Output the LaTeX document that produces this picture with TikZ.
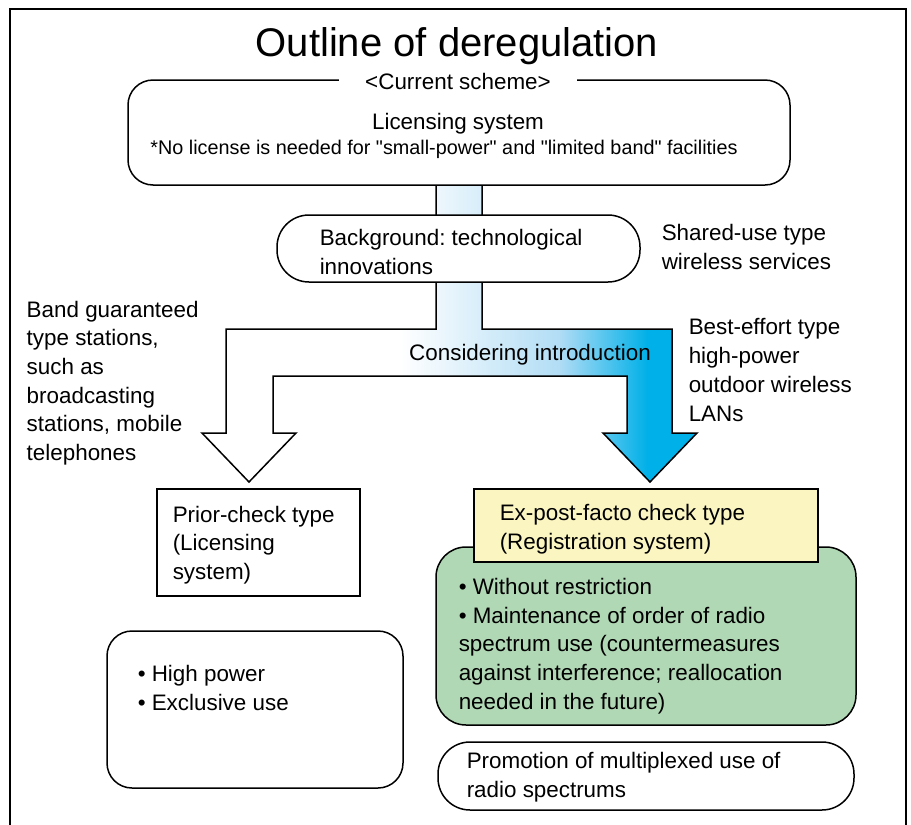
\documentclass[tikz,border=0pt]{standalone}
\usepackage{fontspec}
\setmainfont{Liberation Sans}
\usetikzlibrary{positioning}

\def \titleStr {Outline of deregulation}
\def \currentSchemeStr {<Current scheme>}
\def \licensingStr {Licensing system}
\def \noLicenseStr {*No license is needed for \textquotedbl small-power\textquotedbl\ and \textquotedbl limited band\textquotedbl\ facilities}
\def \backgroundStr {Background: technological\\innovations}
\def \sharedUseStr {Shared-use type\\wireless services}
\def \bandGuaranteedStr {Band guaranteed\\type stations,\\such as\\broadcasting\\stations, mobile\\telephones}
\def \bestEffortStr {Best-effort type\\high-power\\outdoor wireless\\LANs}
\def \consideringStr {Considering introduction}
\def \priorCheckStr {Prior-check type\\(Licensing\\system)}
\def \priorItemsStr {\textbullet\ High power\\\textbullet\ Exclusive use}
\def \exPostStr {Ex-post-facto check type\\(Registration system)}
\def \exPostItemsStr {\textbullet\ Without restriction\\\textbullet\ Maintenance of order of radio\\spectrum use (countermeasures\\against interference; reallocation\\needed in the future)}
\def \promotionStr {Promotion of multiplexed use of\\radio spectrums}

\definecolor{arrowlight}{RGB}{178,221,245}
\definecolor{arrowcyan}{RGB}{0,176,232}
\definecolor{regyellow}{RGB}{251,245,193}
\definecolor{reggreen}{RGB}{177,216,181}

\pgfdeclarehorizontalshading{arrowShade}{100bp}{color(0bp)=(white); color(45bp)=(white); color(61bp)=(arrowlight); color(70bp)=(arrowcyan); color(100bp)=(arrowcyan)}

\begin{document}
\begin{tikzpicture}[x=0.5pt, y=-0.5pt]

\useasboundingbox (0,0) rectangle (911,825);

\begin{scope}[line width=0.75pt,
  mytext/.style={inner sep=0pt, align=left, font=\fontsize{11.2}{14.35}\selectfont\frenchspacing},
  box/.style={draw=black, inner sep=0pt}]

% frame
\draw[line width=0.9pt] (10,830) -- (10,9) -- (906,9) -- (906,830);

\node[inner sep=0pt, font=\fontsize{20}{22}\selectfont] (title) at (457,46) {\titleStr};

% big arrow
\path[draw=black, shading=arrowShade] (436,184) -- (436,329) -- (226,329) -- (226,433) -- (202,433)
  -- (249,482) -- (296,433) -- (273,433) -- (273,376) -- (627,376) -- (627,433) -- (603,433)
  -- (650,482) -- (697,433) -- (672,433) -- (672,329) -- (482,329) -- (482,184) -- cycle;

\node[box, fill=white, rounded corners=12.5pt, minimum width=331pt, minimum height=52.5pt] (currentBox) at (459,132.5) {};
\node[mytext, fill=white, inner xsep=13pt] (currentLabel) at (458,81) {\currentSchemeStr};
\node[mytext] (licensing) at (458,124) {\licensingStr};
\node[mytext, font=\fontsize{9.9}{12}\selectfont] (noLicense) at (444,149) {\noLicenseStr};

\node[box, fill=white, rounded corners=16pt, minimum width=181.5pt, minimum height=33.5pt] (backgroundBox) at (458.5,248.5) {};
\node[mytext, anchor=west] (background) at (319,252) {\backgroundStr};

\node[mytext, anchor=west] (sharedUse) at (661,247) {\sharedUseStr};
\node[mytext, anchor=west] (bandGuaranteed) at (26,383) {\bandGuaranteedStr};
\node[mytext, anchor=west] (bestEffort) at (688,370) {\bestEffortStr};
\node[mytext] (considering) at (530,355) {\consideringStr};

% prior-check side
\node[box, minimum width=101.5pt, minimum height=53.5pt] (priorBox) at (258.5,542.5) {};
\node[mytext, anchor=west] (priorCheck) at (172,545) {\priorCheckStr};
\node[box, rounded corners=12.5pt, minimum width=148pt, minimum height=78.5pt] (priorItemsBox) at (255,709.5) {};
\node[mytext, anchor=west] (priorItems) at (137,688) {\priorItemsStr};

% ex-post-facto side
\node[box, fill=reggreen, rounded corners=15pt, minimum width=210pt, minimum height=89pt] (exPostItemsBox) at (646,636) {};
\node[box, fill=regyellow, minimum width=172pt, minimum height=36.5pt] (exPostBox) at (646,525.5) {};
\node[mytext, anchor=west] (exPost) at (499,529) {\exPostStr};
\node[mytext, anchor=west] (exPostItems) at (458,646) {\exPostItemsStr};

\node[box, rounded corners=16pt, minimum width=208pt, minimum height=34pt] (promotionBox) at (646,776) {};
\node[mytext, anchor=west] (promotion) at (466,777) {\promotionStr};

\end{scope}
\end{tikzpicture}
\end{document}
